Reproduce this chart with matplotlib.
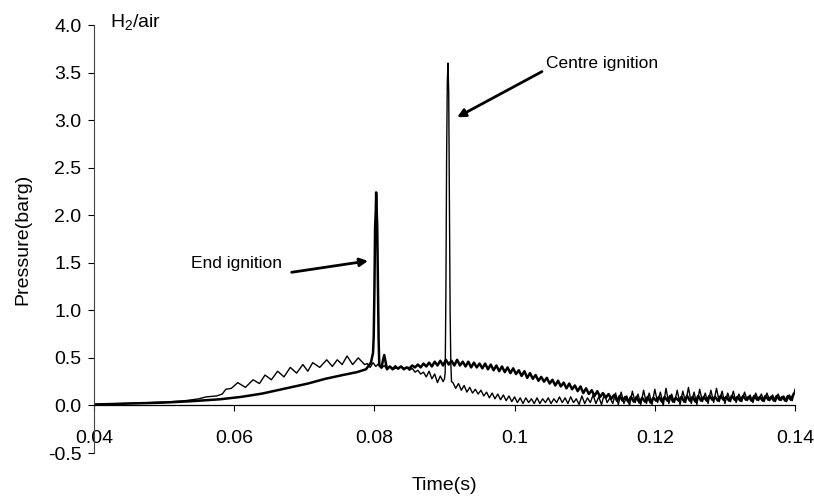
import numpy as np
import matplotlib

matplotlib.use("Agg")
import matplotlib.pyplot as plt

plt.rcParams["font.family"] = ["Liberation Sans", "DejaVu Sans"]
plt.rcParams["axes.unicode_minus"] = False
plt.rcParams["mathtext.default"] = "regular"

# ---- end ignition trace (thick line) ----
end_t_rise = [0.0400, 0.0450, 0.0500, 0.0540, 0.0580, 0.0610, 0.0640, 0.0680,
              0.0705, 0.0730, 0.0755, 0.0775, 0.0788, 0.0795, 0.0798, 0.0799,
              0.0800, 0.0801, 0.0802, 0.08025, 0.0803, 0.0804, 0.0805, 0.0806,
              0.0807]
end_p_rise = [0.01, 0.02, 0.03, 0.045, 0.065, 0.09, 0.125, 0.19,
              0.23, 0.28, 0.32, 0.35, 0.38, 0.45, 0.55, 0.72,
              1.20, 1.88, 2.05, 2.24, 2.10, 1.90, 1.30, 0.70,
              0.42]
# sampled every 0.4 ms from 0.0810 s
end_t0, end_dt = 0.0810, 0.0004
end_p_tail = [
    0.40, 0.53, 0.38, 0.41, 0.38, 0.40, 0.39, 0.41, 0.38, 0.40,
    0.39, 0.42, 0.40, 0.43, 0.40, 0.44, 0.41, 0.45, 0.41, 0.46,
    0.42, 0.47, 0.42, 0.48, 0.43, 0.47, 0.42, 0.48, 0.42, 0.46,
    0.41, 0.46, 0.40, 0.45, 0.40, 0.44, 0.39, 0.44, 0.38, 0.43,
    0.37, 0.42, 0.36, 0.41, 0.35, 0.40, 0.34, 0.39, 0.33, 0.37,
    0.31, 0.36, 0.29, 0.34, 0.28, 0.32, 0.26, 0.30, 0.25, 0.29,
    0.23, 0.27, 0.21, 0.26, 0.20, 0.24, 0.18, 0.23, 0.17, 0.21,
    0.15, 0.20, 0.13, 0.18, 0.12, 0.16, 0.10, 0.15, 0.09, 0.13,
    0.08, 0.12, 0.07, 0.11, 0.05, 0.10, 0.05, 0.09, 0.04, 0.09,
    0.04, 0.09, 0.03, 0.08, 0.04, 0.09, 0.03, 0.08, 0.05, 0.09,
    0.04, 0.09, 0.05, 0.10, 0.04, 0.08, 0.05, 0.09, 0.04, 0.10,
    0.05, 0.09, 0.04, 0.10, 0.05, 0.09, 0.05, 0.10, 0.06, 0.09,
    0.05, 0.10, 0.06, 0.09, 0.05, 0.10, 0.06, 0.09, 0.05, 0.10,
    0.06, 0.09, 0.05, 0.10, 0.06, 0.09, 0.05, 0.10, 0.06, 0.09,
    0.05, 0.10, 0.06, 0.09, 0.05, 0.10, 0.06, 0.12,
]

# ---- centre ignition trace (thin line) ----
cen_t_rise = [0.0400, 0.0440, 0.0480, 0.0510, 0.0530, 0.0550, 0.0560, 0.0575,
              0.0583, 0.0588, 0.0596, 0.0605, 0.0616, 0.0627, 0.0636, 0.0644,
              0.0653, 0.0662, 0.0671, 0.0680, 0.0689, 0.0698, 0.0705, 0.0712,
              0.0722, 0.0732, 0.0740, 0.0747, 0.0754, 0.0761, 0.0769, 0.0777,
              0.0786]
cen_p_rise = [0.01, 0.02, 0.03, 0.04, 0.05, 0.07, 0.09, 0.10,
              0.12, 0.17, 0.18, 0.24, 0.19, 0.27, 0.23, 0.32,
              0.27, 0.36, 0.30, 0.40, 0.34, 0.43, 0.36, 0.45,
              0.40, 0.48, 0.41, 0.48, 0.43, 0.52, 0.43, 0.50,
              0.43]
cen_t0_mid, cen_dt = 0.0790, 0.0004
cen_p_mid = [0.44, 0.40, 0.45, 0.41, 0.44, 0.39, 0.42, 0.38, 0.41, 0.39,
             0.42, 0.38, 0.41, 0.39, 0.40, 0.37, 0.39, 0.35, 0.37, 0.33,
             0.35, 0.30, 0.36, 0.28, 0.33, 0.24, 0.31, 0.25]
cen_t_spike = [0.0900, 0.0901, 0.0902, 0.0903, 0.0904, 0.0905, 0.0906, 0.0907,
               0.0908, 0.0909, 0.0910]
cen_p_spike = [0.28, 0.35, 1.20, 2.60, 3.40, 3.60, 3.30, 2.20,
               1.00, 0.45, 0.25]
cen_t0_tail = 0.0912
cen_p_tail = [
    0.24, 0.18, 0.23, 0.16, 0.21, 0.14, 0.19, 0.13, 0.17, 0.12,
    0.16, 0.10, 0.14, 0.08, 0.13, 0.07, 0.12, 0.06, 0.11, 0.05,
    0.10, 0.04, 0.09, 0.03, 0.08, 0.02, 0.08, 0.03, 0.07, 0.02,
    0.08, 0.02, 0.07, 0.03, 0.08, 0.02, 0.07, 0.03, 0.09, 0.03,
    0.08, 0.02, 0.09, 0.03, 0.07, 0.01, 0.10, 0.02, 0.08, 0.03,
    0.11, 0.02, 0.09, 0.01, 0.12, 0.03, 0.08, 0.02, 0.13, 0.01,
    0.14, 0.02, 0.10, 0.00, 0.15, 0.03, 0.12, 0.01, 0.16, 0.02,
    0.13, 0.01, 0.17, 0.03, 0.14, 0.00, 0.18, 0.02, 0.12, 0.03,
    0.16, 0.01, 0.15, 0.03, 0.19, 0.02, 0.14, 0.01, 0.17, 0.04,
    0.13, 0.02, 0.16, 0.03, 0.18, 0.04, 0.15, 0.02, 0.13, 0.04,
    0.15, 0.03, 0.12, 0.04, 0.14, 0.05, 0.11, 0.03, 0.13, 0.05,
    0.12, 0.04, 0.13, 0.05, 0.11, 0.04, 0.12, 0.05, 0.10, 0.04,
    0.11, 0.05, 0.17,
]

x_ticks = [0.04, 0.06, 0.08, 0.10, 0.12, 0.14]
x_tick_labels = ["0.04", "0.06", "0.08", "0.1", "0.12", "0.14"]
y_ticks = [-0.5, 0.0, 0.5, 1.0, 1.5, 2.0, 2.5, 3.0, 3.5, 4.0]


def main():
    end_t = np.concatenate([end_t_rise, end_t0 + end_dt * np.arange(len(end_p_tail))])
    end_p = np.concatenate([end_p_rise, end_p_tail])

    cen_t = np.concatenate([
        cen_t_rise,
        cen_t0_mid + cen_dt * np.arange(len(cen_p_mid)),
        cen_t_spike,
        cen_t0_tail + cen_dt * np.arange(len(cen_p_tail)),
    ])
    cen_p = np.concatenate([cen_p_rise, cen_p_mid, cen_p_spike, cen_p_tail])

    fig = plt.figure(figsize=(8.14, 4.97), dpi=100)
    ax = fig.add_axes([94 / 814, 1 - 453 / 497, 701 / 814, 428 / 497])

    ax.plot(cen_t, cen_p, color="black", linewidth=1.0)
    ax.plot(end_t, end_p, color="black", linewidth=1.8)

    ax.set_xlim(0.04, 0.14)
    ax.set_ylim(-0.5, 4.0)

    ax.spines["top"].set_visible(False)
    ax.spines["right"].set_visible(False)
    ax.spines["bottom"].set_position(("data", 0))
    ax.spines["bottom"].set_linewidth(0.9)
    ax.spines["left"].set_linewidth(0.8)
    ax.spines["left"].set_color("#444444")

    ax.set_xticks(x_ticks)
    ax.set_xticklabels(x_tick_labels)
    ax.set_yticks(y_ticks)
    ax.set_yticklabels([f"{v:.1f}" for v in y_ticks])
    ax.tick_params(axis="x", direction="out", length=4, width=0.8, pad=14, labelsize=14)
    ax.tick_params(axis="y", direction="out", length=4, width=0.8, pad=5, labelsize=14)

    ax.set_xlabel("Time(s)", fontsize=14)
    ax.xaxis.set_label_coords(0.5, -0.056)
    ax.set_ylabel("Pressure(barg)", fontsize=14)
    ax.yaxis.set_label_coords(-0.09, 0.5)

    ax.text(0.0423, 3.98, "H$_2$/air", fontsize=14, va="baseline", ha="left")

    arrow = dict(arrowstyle="-|>", color="black", lw=2.0, mutation_scale=12,
                 shrinkA=0, shrinkB=0)
    ax.annotate("", xy=(0.0918, 3.03), xytext=(0.1039, 3.51), arrowprops=arrow)
    ax.text(0.1045, 3.55, "Centre ignition", fontsize=12.5, va="baseline", ha="left")
    ax.annotate("", xy=(0.0791, 1.52), xytext=(0.0682, 1.40), arrowprops=arrow)
    ax.text(0.0538, 1.45, "End ignition", fontsize=12.5, va="baseline", ha="left")

    fig.savefig("out.png", dpi=100)


if __name__ == "__main__":
    main()
